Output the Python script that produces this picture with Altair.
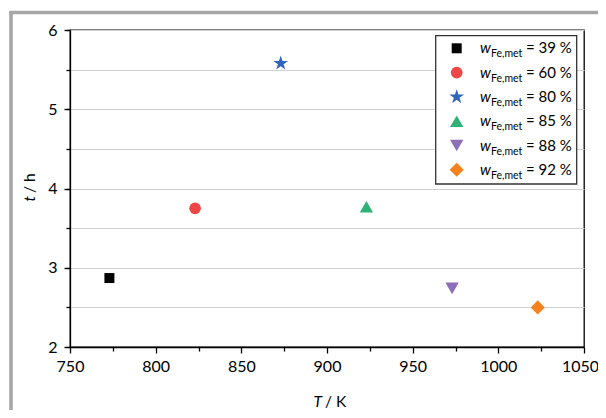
import altair as alt
import pandas as pd

# ---- data ----
T_K = [773, 823, 873, 923, 973, 1023]
t_h = [2.87, 3.75, 5.58, 3.77, 2.74, 2.50]
w_pct = ["39", "60", "80", "85", "88", "92"]
series = ["w39", "w60", "w80", "w85", "w88", "w92"]
colors = ["#000000", "#ef4646", "#2f65bd", "#2eb276", "#8d6fb9", "#f5821f"]
STAR = ("M0,-1L0.2245,-0.309L0.951,-0.309L0.363,0.118L0.588,0.809L0,0.382"
        "L-0.588,0.809L-0.363,0.118L-0.951,-0.309L-0.2245,-0.309Z")
shapes = ["square", "circle", STAR, "triangle-up", "triangle-down", "diamond"]
sizes = [100, 136, 240, 178, 178, 200]

x_major = [750, 800, 850, 900, 950, 1000, 1050]
x_minor = [775, 825, 875, 925, 975, 1025]
y_major = [2, 3, 4, 5, 6]
y_grid = [2, 2.5, 3, 3.5, 4, 4.5, 5, 5.5, 6]

FONT = "Lato"
NBSP = "\u00a0"

df = pd.DataFrame({
    "series": series,
    "T": T_K,
    "t": t_h,
    "w": w_pct,
    "sz": sizes,
    "row": list(range(len(series))),
})

xs = alt.Scale(domain=[750, 1050], nice=False, zero=False)
ys = alt.Scale(domain=[2, 6], nice=False, zero=False)
cs = alt.Scale(domain=series, range=colors)
ss = alt.Scale(domain=series, range=shapes)

base = alt.Chart(df)

minor = base.mark_point(opacity=0).encode(
    x=alt.X("T:Q", scale=xs, axis=alt.Axis(values=x_minor, tickSize=4, labels=False,
                                            domain=False, grid=False, orient="bottom", title=None)),
    y=alt.Y("t:Q", scale=ys, axis=alt.Axis(values=y_grid, tickSize=4, labels=False,
                                            domain=False, grid=True, gridColor="#d0d0d0",
                                            gridWidth=1.2, orient="left", title=None)),
)

main = base.mark_point(filled=True, opacity=1, strokeWidth=0).encode(
    x=alt.X("T:Q", scale=xs, axis=alt.Axis(
        values=x_major, tickSize=6, format="d", labelPadding=5, labelFlush=False,
        labelOffset={"condition": {"test": "datum.value == 1050", "value": -4}, "value": 0},
        grid=False, orient="bottom", title=None)),
    y=alt.Y("t:Q", scale=ys, axis=alt.Axis(values=y_major, tickSize=6, format="d",
                                            labelPadding=7, grid=False, orient="left", title=None)),
    color=alt.Color("series:N", scale=cs, legend=None),
    shape=alt.Shape("series:N", scale=ss, legend=None),
    size=alt.Size("sz:Q", scale=None, legend=None),
)

frame_df = pd.DataFrame({"k": [0]})
frame_top = alt.Chart(frame_df).mark_rule(color="#a6a6a6", strokeWidth=3.5).encode(
    x=alt.value(-60.5), x2=alt.value(545), y=alt.value(-17.5))
frame_left = alt.Chart(frame_df).mark_rule(color="#a6a6a6", strokeWidth=3.5).encode(
    x=alt.value(-59), y=alt.value(-19), y2=alt.value(400))

leg_box = alt.Chart(frame_df).mark_rect(fill="white", stroke="#333333", strokeWidth=1.3).encode(
    x=alt.value(365.7), x2=alt.value(506.7), y=alt.value(5.7), y2=alt.value(154))

leg = base.transform_calculate(
    ly="18.3 + 24.3 * datum.row",
    lyt="23.3 + 24.3 * datum.row",
    lys="27.3 + 24.3 * datum.row",
    lab="'= ' + datum.w + ' %'",
)

leg_sym = leg.mark_point(filled=True, opacity=1, strokeWidth=0).encode(
    x=alt.value(386.7),
    y=alt.Y("ly:Q", scale=None, axis=None),
    color=alt.Color("series:N", scale=cs, legend=None),
    shape=alt.Shape("series:N", scale=ss, legend=None),
    size=alt.Size("sz:Q", scale=None, legend=None),
)
leg_w = leg.mark_text(font=FONT, fontSize=15, fontStyle="italic", align="left",
                      baseline="alphabetic", color="black").encode(
    x=alt.value(410), y=alt.Y("lyt:Q", scale=None, axis=None), text=alt.value("w"))
leg_sub = leg.mark_text(font=FONT, fontSize=10.5, align="left",
                        baseline="alphabetic", color="black").encode(
    x=alt.value(421), y=alt.Y("lys:Q", scale=None, axis=None), text=alt.value("Fe,met"))
leg_val = leg.mark_text(font=FONT, fontSize=15, align="left",
                        baseline="alphabetic", color="black").encode(
    x=alt.value(456), y=alt.Y("lyt:Q", scale=None, axis=None), text=alt.Text("lab:N"))

xt1 = alt.Chart(frame_df).mark_text(font=FONT, fontSize=15.5, fontStyle="italic", align="right",
                                    baseline="alphabetic", color="black").encode(
    x=alt.value(252), y=alt.value(376.5), text=alt.value("T"))
xt2 = alt.Chart(frame_df).mark_text(font=FONT, fontSize=15.5, align="left",
                                    baseline="alphabetic", color="black").encode(
    x=alt.value(255), y=alt.value(376.5), text=alt.value(NBSP + "/ K"))
yt1 = alt.Chart(frame_df).mark_text(font=FONT, fontSize=15.5, fontStyle="italic", align="right",
                                    baseline="alphabetic", angle=270, color="black").encode(
    x=alt.value(-35), y=alt.value(166), text=alt.value("t"))
yt2 = alt.Chart(frame_df).mark_text(font=FONT, fontSize=15.5, align="left",
                                    baseline="alphabetic", angle=270, color="black").encode(
    x=alt.value(-35), y=alt.value(163), text=alt.value(NBSP + "/ h"))

chart = alt.layer(
    minor, frame_top, frame_left, main, leg_box, leg_sym, leg_w, leg_sub, leg_val,
    xt1, xt2, yt1, yt2,
).resolve_axis(x="independent", y="independent").properties(
    width=514, height=317,
    autosize=alt.AutoSizeParams(type="none"),
    padding={"left": 62, "top": 22, "right": 14, "bottom": 63},
).configure_view(
    stroke="black", strokeWidth=1.3
).configure_axis(
    domainColor="black", domainWidth=1.3, tickColor="black", tickWidth=1.3,
    labelFont=FONT, labelFontSize=16, labelColor="black",
)

chart.save("out.html", embed_options={"renderer": "svg", "actions": False})
